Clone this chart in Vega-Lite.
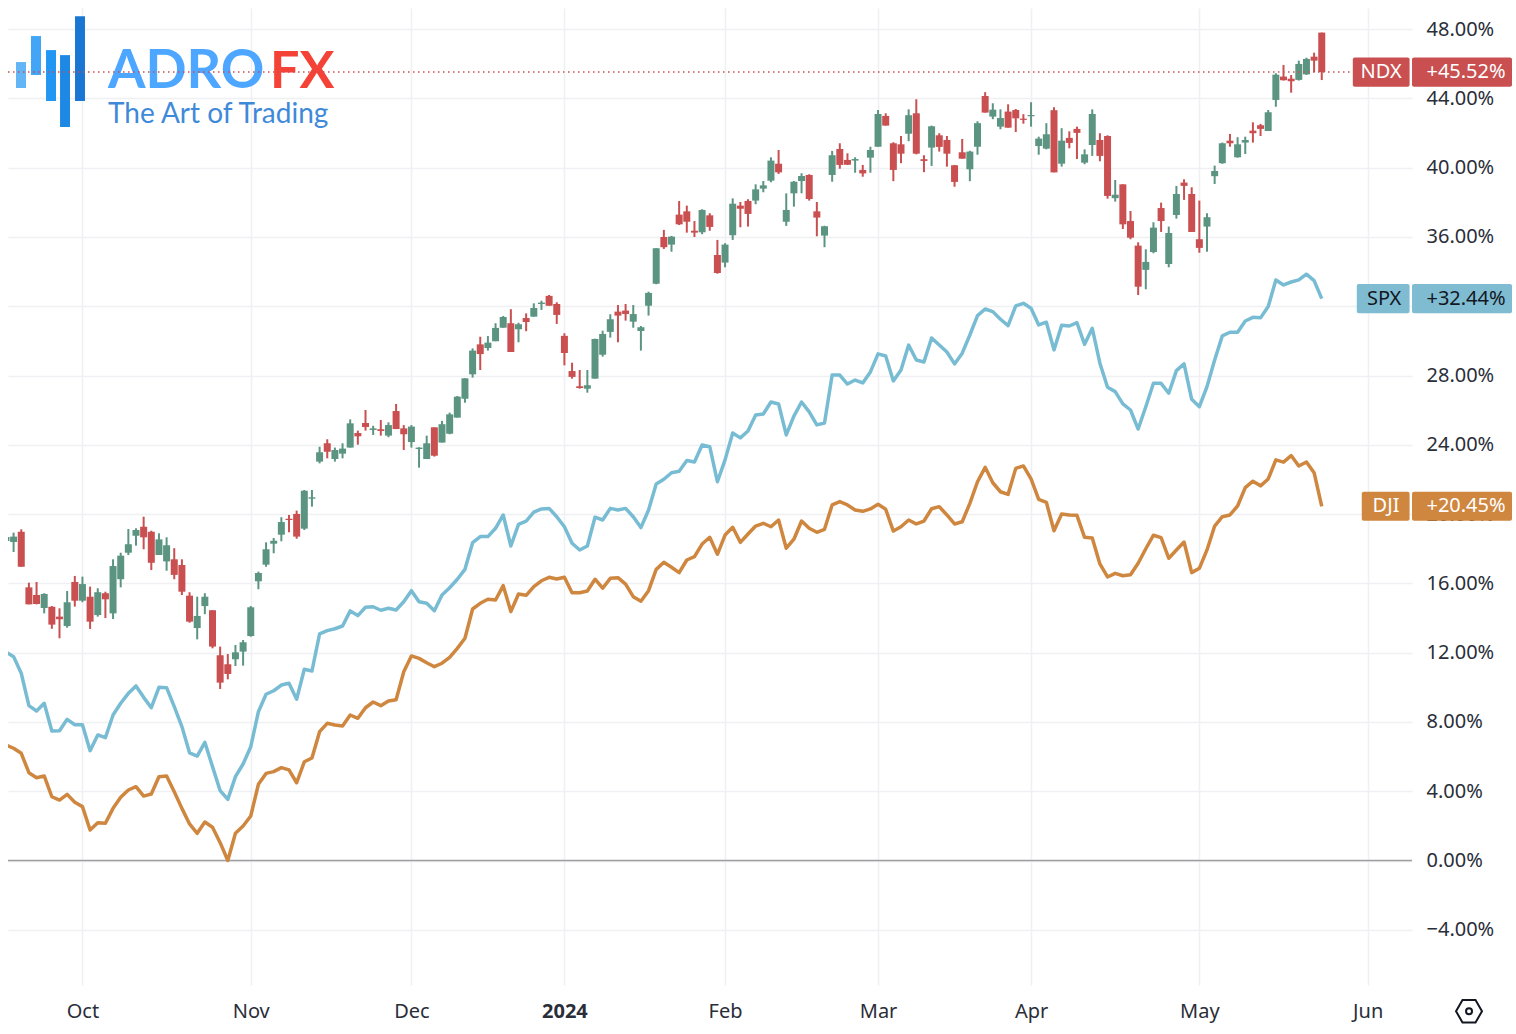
{"$schema":"https://vega.github.io/schema/vega-lite/v6.json","autosize":{"type":"none"},"padding":{"left":8,"top":8,"right":104,"bottom":49},"width":1404,"height":977,"background":"white","config":{"view":{"stroke":null},"font":"Noto Sans","scale":{"continuousPadding":0}},
"datasets":{"days":[
{"i":-1,"o":18.45,"h":18.91,"l":18.10,"c":18.68,"spx":12.04,"dji":6.67},
{"i":0,"o":18.39,"h":18.93,"l":17.81,"c":18.70,"spx":11.77,"dji":6.48},
{"i":1,"o":18.98,"h":19.12,"l":16.96,"c":16.96,"spx":10.81,"dji":6.19},
{"i":2,"o":15.77,"h":16.04,"l":14.79,"c":14.79,"spx":8.94,"dji":5.07},
{"i":3,"o":15.33,"h":16.08,"l":14.79,"c":14.81,"spx":8.63,"dji":4.78},
{"i":4,"o":14.58,"h":15.43,"l":14.27,"c":15.39,"spx":9.08,"dji":4.88},
{"i":5,"o":14.65,"h":14.69,"l":13.38,"c":13.62,"spx":7.48,"dji":3.68},
{"i":6,"o":14.08,"h":14.56,"l":12.83,"c":13.93,"spx":7.49,"dji":3.49},
{"i":7,"o":13.54,"h":15.56,"l":13.44,"c":14.91,"spx":8.15,"dji":3.82},
{"i":8,"o":16.08,"h":16.43,"l":14.66,"c":15.00,"spx":7.84,"dji":3.36},
{"i":9,"o":15.00,"h":16.39,"l":14.91,"c":15.96,"spx":7.84,"dji":3.11},
{"i":10,"o":15.23,"h":15.81,"l":13.37,"c":13.79,"spx":6.34,"dji":1.76},
{"i":11,"o":14.17,"h":15.72,"l":14.08,"c":15.49,"spx":7.25,"dji":2.18},
{"i":12,"o":15.43,"h":15.52,"l":14.00,"c":15.08,"spx":7.09,"dji":2.15},
{"i":13,"o":14.27,"h":17.39,"l":13.94,"c":17.00,"spx":8.40,"dji":3.01},
{"i":14,"o":16.24,"h":17.77,"l":15.77,"c":17.60,"spx":9.08,"dji":3.65},
{"i":15,"o":17.77,"h":19.14,"l":17.64,"c":18.26,"spx":9.65,"dji":4.07},
{"i":16,"o":18.75,"h":19.18,"l":18.18,"c":19.08,"spx":10.08,"dji":4.26},
{"i":17,"o":19.27,"h":19.85,"l":17.97,"c":18.66,"spx":9.42,"dji":3.72},
{"i":18,"o":18.98,"h":19.04,"l":16.77,"c":17.19,"spx":8.82,"dji":3.84},
{"i":19,"o":17.64,"h":18.89,"l":17.64,"c":18.54,"spx":10.00,"dji":4.84},
{"i":20,"o":17.27,"h":18.66,"l":16.73,"c":18.20,"spx":9.98,"dji":4.88},
{"i":21,"o":17.39,"h":18.03,"l":16.24,"c":16.49,"spx":8.88,"dji":3.97},
{"i":22,"o":17.06,"h":17.39,"l":15.33,"c":15.52,"spx":7.73,"dji":3.01},
{"i":23,"o":15.29,"h":15.49,"l":13.73,"c":13.79,"spx":6.22,"dji":2.11},
{"i":24,"o":13.42,"h":15.23,"l":12.77,"c":14.12,"spx":6.03,"dji":1.57},
{"i":25,"o":14.69,"h":15.43,"l":14.22,"c":15.23,"spx":6.82,"dji":2.22},
{"i":26,"o":14.45,"h":14.45,"l":12.25,"c":12.35,"spx":5.42,"dji":1.92},
{"i":27,"o":11.85,"h":12.35,"l":9.90,"c":10.27,"spx":4.03,"dji":1.03},
{"i":28,"o":11.33,"h":11.92,"l":10.46,"c":10.77,"spx":3.53,"dji":0.00},
{"i":29,"o":11.62,"h":12.44,"l":11.23,"c":12.02,"spx":4.84,"dji":1.57},
{"i":30,"o":12.06,"h":12.73,"l":11.25,"c":12.60,"spx":5.57,"dji":1.99},
{"i":31,"o":12.96,"h":14.69,"l":12.92,"c":14.62,"spx":6.57,"dji":2.57},
{"i":32,"o":16.12,"h":16.68,"l":15.66,"c":16.60,"spx":8.59,"dji":4.40},
{"i":33,"o":17.08,"h":18.37,"l":16.96,"c":17.97,"spx":9.60,"dji":5.03},
{"i":34,"o":18.29,"h":18.62,"l":17.74,"c":18.46,"spx":9.80,"dji":5.13},
{"i":35,"o":18.81,"h":19.82,"l":18.43,"c":19.54,"spx":10.13,"dji":5.36},
{"i":36,"o":19.73,"h":19.95,"l":18.95,"c":19.66,"spx":10.23,"dji":5.23},
{"i":37,"o":20.01,"h":20.20,"l":18.58,"c":18.70,"spx":9.31,"dji":4.49},
{"i":38,"o":19.16,"h":21.39,"l":19.08,"c":21.35,"spx":11.04,"dji":5.70},
{"i":39,"o":20.89,"h":21.39,"l":20.43,"c":20.97,"spx":10.94,"dji":5.92},
{"i":40,"o":23.03,"h":23.89,"l":22.93,"c":23.57,"spx":13.08,"dji":7.44},
{"i":41,"o":24.09,"h":24.32,"l":23.22,"c":23.60,"spx":13.27,"dji":7.92},
{"i":42,"o":23.18,"h":23.84,"l":23.03,"c":23.70,"spx":13.38,"dji":7.82},
{"i":43,"o":23.49,"h":24.09,"l":23.22,"c":23.78,"spx":13.54,"dji":7.77},
{"i":44,"o":23.84,"h":25.47,"l":23.84,"c":25.24,"spx":14.41,"dji":8.40},
{"i":45,"o":24.68,"h":24.82,"l":24.01,"c":24.49,"spx":14.14,"dji":8.21},
{"i":46,"o":25.26,"h":26.01,"l":24.82,"c":25.03,"spx":14.62,"dji":8.82},
{"i":47,"o":24.86,"h":25.10,"l":24.57,"c":24.95,"spx":14.65,"dji":9.15},
{"i":48,"o":24.90,"h":25.43,"l":24.53,"c":24.80,"spx":14.45,"dji":8.94},
{"i":49,"o":24.53,"h":25.30,"l":24.44,"c":25.14,"spx":14.56,"dji":9.21},
{"i":50,"o":25.95,"h":26.36,"l":24.91,"c":24.91,"spx":14.46,"dji":9.28},
{"i":51,"o":24.95,"h":25.14,"l":23.70,"c":24.61,"spx":14.94,"dji":10.90},
{"i":52,"o":24.16,"h":25.14,"l":23.84,"c":25.05,"spx":15.58,"dji":11.81},
{"i":53,"o":23.76,"h":23.86,"l":22.68,"c":23.84,"spx":14.94,"dji":11.67},
{"i":54,"o":23.18,"h":24.53,"l":23.18,"c":24.09,"spx":14.85,"dji":11.42},
{"i":55,"o":25.01,"h":25.01,"l":23.32,"c":23.37,"spx":14.42,"dji":11.19},
{"i":56,"o":24.13,"h":25.38,"l":24.13,"c":25.19,"spx":15.33,"dji":11.39},
{"i":57,"o":24.64,"h":25.86,"l":24.61,"c":25.76,"spx":15.75,"dji":11.73},
{"i":58,"o":25.57,"h":26.82,"l":25.57,"c":26.78,"spx":16.24,"dji":12.25},
{"i":59,"o":26.66,"h":27.84,"l":26.43,"c":27.84,"spx":16.81,"dji":12.83},
{"i":60,"o":28.07,"h":29.57,"l":27.88,"c":29.44,"spx":18.35,"dji":14.52},
{"i":61,"o":29.80,"h":30.24,"l":28.32,"c":29.24,"spx":18.70,"dji":14.85},
{"i":62,"o":29.59,"h":30.28,"l":29.44,"c":29.90,"spx":18.70,"dji":15.08},
{"i":63,"o":29.98,"h":31.02,"l":29.98,"c":30.75,"spx":19.18,"dji":15.04},
{"i":64,"o":30.76,"h":31.44,"l":30.76,"c":31.38,"spx":19.95,"dji":15.87},
{"i":65,"o":31.02,"h":31.83,"l":29.36,"c":29.36,"spx":18.16,"dji":14.37},
{"i":66,"o":30.67,"h":31.05,"l":29.92,"c":30.96,"spx":19.41,"dji":15.39},
{"i":67,"o":31.32,"h":31.59,"l":30.56,"c":31.09,"spx":19.60,"dji":15.31},
{"i":68,"o":31.40,"h":32.17,"l":31.40,"c":31.90,"spx":20.11,"dji":15.81},
{"i":69,"o":32.13,"h":32.32,"l":31.79,"c":32.21,"spx":20.30,"dji":16.15},
{"i":70,"o":32.60,"h":32.65,"l":32.03,"c":32.03,"spx":20.33,"dji":16.35},
{"i":71,"o":32.13,"h":32.23,"l":30.98,"c":31.50,"spx":19.85,"dji":16.25},
{"i":72,"o":30.29,"h":30.44,"l":28.59,"c":29.30,"spx":19.27,"dji":16.35},
{"i":73,"o":28.26,"h":28.74,"l":27.82,"c":27.92,"spx":18.32,"dji":15.46},
{"i":74,"o":27.38,"h":28.32,"l":27.24,"c":27.28,"spx":17.93,"dji":15.46},
{"i":75,"o":27.24,"h":28.32,"l":27.01,"c":27.44,"spx":18.16,"dji":15.56},
{"i":76,"o":27.82,"h":30.13,"l":27.82,"c":30.11,"spx":19.82,"dji":16.24},
{"i":77,"o":29.20,"h":30.59,"l":29.09,"c":30.40,"spx":19.66,"dji":15.72},
{"i":78,"o":30.52,"h":31.54,"l":30.19,"c":31.25,"spx":20.33,"dji":16.29},
{"i":79,"o":31.69,"h":32.07,"l":29.92,"c":31.46,"spx":20.24,"dji":16.33},
{"i":80,"o":31.75,"h":32.13,"l":31.17,"c":31.55,"spx":20.33,"dji":15.96},
{"i":81,"o":31.11,"h":32.07,"l":30.76,"c":31.55,"spx":19.85,"dji":15.23},
{"i":82,"o":30.57,"h":30.86,"l":29.44,"c":30.79,"spx":19.22,"dji":14.97},
{"i":83,"o":32.03,"h":32.84,"l":31.46,"c":32.77,"spx":20.24,"dji":15.58},
{"i":84,"o":33.30,"h":35.35,"l":33.27,"c":35.35,"spx":21.74,"dji":16.81},
{"i":85,"o":36.00,"h":36.41,"l":35.31,"c":35.41,"spx":22.01,"dji":17.22},
{"i":86,"o":35.56,"h":36.06,"l":35.15,"c":36.02,"spx":22.39,"dji":16.93},
{"i":87,"o":37.29,"h":38.08,"l":36.69,"c":36.73,"spx":22.47,"dji":16.62},
{"i":88,"o":37.48,"h":37.81,"l":36.25,"c":36.88,"spx":23.09,"dji":17.35},
{"i":89,"o":36.36,"h":36.92,"l":36.00,"c":36.25,"spx":23.01,"dji":17.54},
{"i":90,"o":36.27,"h":37.60,"l":36.16,"c":37.56,"spx":23.99,"dji":18.27},
{"i":91,"o":37.25,"h":37.37,"l":36.36,"c":36.58,"spx":23.89,"dji":18.66},
{"i":92,"o":34.96,"h":35.83,"l":33.88,"c":33.92,"spx":21.87,"dji":17.68},
{"i":93,"o":34.52,"h":35.64,"l":34.25,"c":35.56,"spx":23.13,"dji":18.79},
{"i":94,"o":36.10,"h":38.23,"l":35.83,"c":37.92,"spx":24.68,"dji":19.24},
{"i":95,"o":37.81,"h":38.02,"l":36.56,"c":37.63,"spx":24.40,"dji":18.37},
{"i":96,"o":38.08,"h":38.18,"l":36.60,"c":37.33,"spx":24.80,"dji":18.85},
{"i":97,"o":38.10,"h":39.04,"l":37.89,"c":38.75,"spx":25.72,"dji":19.31},
{"i":98,"o":38.79,"h":39.23,"l":38.58,"c":38.98,"spx":25.78,"dji":19.47},
{"i":99,"o":39.25,"h":40.60,"l":39.16,"c":40.41,"spx":26.47,"dji":19.27},
{"i":100,"o":40.23,"h":41.02,"l":39.64,"c":39.73,"spx":26.36,"dji":19.66},
{"i":101,"o":36.88,"h":38.52,"l":36.64,"c":37.56,"spx":24.57,"dji":18.03},
{"i":102,"o":38.52,"h":39.23,"l":37.75,"c":39.19,"spx":25.66,"dji":18.55},
{"i":103,"o":39.23,"h":39.68,"l":38.52,"c":39.52,"spx":26.47,"dji":19.60},
{"i":104,"o":39.58,"h":39.62,"l":38.10,"c":38.19,"spx":25.90,"dji":19.18},
{"i":105,"o":37.48,"h":38.02,"l":36.04,"c":37.12,"spx":25.15,"dji":18.95},
{"i":106,"o":36.08,"h":36.65,"l":35.41,"c":36.62,"spx":25.26,"dji":19.12},
{"i":107,"o":39.58,"h":40.97,"l":39.19,"c":40.72,"spx":28.03,"dji":20.53},
{"i":108,"o":41.08,"h":41.41,"l":39.94,"c":40.16,"spx":28.03,"dji":20.72},
{"i":109,"o":40.45,"h":40.83,"l":40.16,"c":40.17,"spx":27.51,"dji":20.53},
{"i":110,"o":40.41,"h":40.60,"l":39.71,"c":40.50,"spx":27.74,"dji":20.24},
{"i":111,"o":39.87,"h":40.16,"l":39.48,"c":39.67,"spx":27.57,"dji":20.16},
{"i":112,"o":40.58,"h":41.21,"l":39.71,"c":41.02,"spx":28.21,"dji":20.30},
{"i":113,"o":41.21,"h":43.33,"l":41.21,"c":43.10,"spx":29.25,"dji":20.57},
{"i":114,"o":42.99,"h":43.14,"l":42.43,"c":42.43,"spx":29.13,"dji":20.28},
{"i":115,"o":41.41,"h":41.47,"l":39.22,"c":39.87,"spx":27.69,"dji":19.02},
{"i":116,"o":41.35,"h":41.83,"l":40.26,"c":40.81,"spx":28.32,"dji":19.27},
{"i":117,"o":41.96,"h":43.37,"l":41.53,"c":43.03,"spx":29.76,"dji":19.66},
{"i":118,"o":43.14,"h":43.95,"l":40.77,"c":40.81,"spx":28.90,"dji":19.43},
{"i":119,"o":40.49,"h":40.72,"l":39.74,"c":40.39,"spx":28.78,"dji":19.60},
{"i":120,"o":41.16,"h":42.43,"l":40.10,"c":42.39,"spx":30.17,"dji":20.31},
{"i":121,"o":41.87,"h":41.99,"l":40.93,"c":41.20,"spx":29.76,"dji":20.43},
{"i":122,"o":41.60,"h":41.83,"l":40.06,"c":40.81,"spx":29.36,"dji":19.95},
{"i":123,"o":40.14,"h":40.16,"l":38.90,"c":39.18,"spx":28.67,"dji":19.43},
{"i":124,"o":40.89,"h":41.66,"l":40.52,"c":40.52,"spx":29.29,"dji":19.56},
{"i":125,"o":39.91,"h":40.98,"l":39.22,"c":40.93,"spx":30.34,"dji":20.62},
{"i":126,"o":41.21,"h":42.68,"l":40.75,"c":42.57,"spx":31.46,"dji":21.87},
{"i":127,"o":44.14,"h":44.36,"l":43.18,"c":43.18,"spx":31.84,"dji":22.70},
{"i":128,"o":42.95,"h":43.72,"l":42.80,"c":43.35,"spx":31.69,"dji":21.81},
{"i":129,"o":42.37,"h":43.37,"l":42.22,"c":42.87,"spx":31.25,"dji":21.29},
{"i":130,"o":43.24,"h":43.66,"l":42.31,"c":42.31,"spx":30.88,"dji":21.14},
{"i":131,"o":43.33,"h":43.39,"l":42.06,"c":42.85,"spx":32.02,"dji":22.64},
{"i":132,"o":42.83,"h":43.09,"l":42.54,"c":42.76,"spx":32.17,"dji":22.78},
{"i":133,"o":42.97,"h":43.78,"l":42.37,"c":43.04,"spx":31.88,"dji":22.03},
{"i":134,"o":41.25,"h":41.79,"l":40.75,"c":41.68,"spx":30.92,"dji":20.85},
{"i":135,"o":41.10,"h":42.57,"l":41.06,"c":41.93,"spx":31.08,"dji":20.68},
{"i":136,"o":43.32,"h":43.49,"l":39.73,"c":39.73,"spx":29.48,"dji":19.04},
{"i":137,"o":40.23,"h":42.28,"l":40.06,"c":41.56,"spx":30.90,"dji":20.01},
{"i":138,"o":41.72,"h":42.10,"l":41.12,"c":41.43,"spx":30.86,"dji":19.95},
{"i":139,"o":42.24,"h":42.37,"l":40.50,"c":42.01,"spx":31.05,"dji":19.93},
{"i":140,"o":40.29,"h":41.06,"l":40.20,"c":40.77,"spx":29.80,"dji":18.66},
{"i":141,"o":41.31,"h":43.37,"l":40.68,"c":43.10,"spx":30.73,"dji":18.62},
{"i":142,"o":41.60,"h":41.99,"l":40.37,"c":40.68,"spx":28.71,"dji":17.12},
{"i":143,"o":41.83,"h":41.87,"l":38.21,"c":38.37,"spx":27.32,"dji":16.37},
{"i":144,"o":38.24,"h":39.29,"l":38.04,"c":38.44,"spx":27.07,"dji":16.58},
{"i":145,"o":39.04,"h":39.04,"l":36.46,"c":36.73,"spx":26.36,"dji":16.44},
{"i":146,"o":36.92,"h":37.50,"l":35.87,"c":35.96,"spx":26.01,"dji":16.50},
{"i":147,"o":35.50,"h":35.69,"l":32.65,"c":33.13,"spx":24.91,"dji":17.16},
{"i":148,"o":34.10,"h":35.29,"l":32.98,"c":34.56,"spx":26.20,"dji":18.00},
{"i":149,"o":35.13,"h":36.85,"l":35.06,"c":36.54,"spx":27.55,"dji":18.78},
{"i":150,"o":37.67,"h":37.98,"l":36.29,"c":36.92,"spx":27.55,"dji":18.64},
{"i":151,"o":34.44,"h":36.60,"l":34.25,"c":36.23,"spx":26.98,"dji":17.45},
{"i":152,"o":37.27,"h":38.95,"l":37.06,"c":38.48,"spx":28.28,"dji":17.93},
{"i":153,"o":39.14,"h":39.33,"l":38.14,"c":38.95,"spx":28.67,"dji":18.39},
{"i":154,"o":38.48,"h":38.87,"l":36.29,"c":36.29,"spx":26.63,"dji":16.62},
{"i":155,"o":35.87,"h":38.10,"l":35.09,"c":35.37,"spx":26.20,"dji":16.87},
{"i":156,"o":36.60,"h":37.37,"l":35.15,"c":37.14,"spx":27.36,"dji":17.93},
{"i":157,"o":39.51,"h":40.12,"l":39.06,"c":39.81,"spx":28.90,"dji":19.31},
{"i":158,"o":40.26,"h":41.45,"l":40.22,"c":41.41,"spx":30.29,"dji":19.85},
{"i":159,"o":41.56,"h":41.95,"l":41.21,"c":41.41,"spx":30.50,"dji":19.95},
{"i":160,"o":40.60,"h":41.76,"l":40.58,"c":41.35,"spx":30.50,"dji":20.47},
{"i":161,"o":41.45,"h":41.79,"l":40.79,"c":41.60,"spx":31.15,"dji":21.53},
{"i":162,"o":42.14,"h":42.62,"l":41.45,"c":41.99,"spx":31.36,"dji":21.90},
{"i":163,"o":42.45,"h":42.53,"l":41.83,"c":42.24,"spx":31.33,"dji":21.63},
{"i":164,"o":42.12,"h":43.33,"l":42.12,"c":43.20,"spx":31.98,"dji":22.03},
{"i":165,"o":43.91,"h":45.45,"l":43.52,"c":45.37,"spx":33.52,"dji":23.13},
{"i":166,"o":45.26,"h":45.93,"l":45.03,"c":45.05,"spx":33.23,"dji":23.00},
{"i":167,"o":45.14,"h":45.35,"l":44.33,"c":44.99,"spx":33.40,"dji":23.38},
{"i":168,"o":45.07,"h":46.18,"l":45.03,"c":45.99,"spx":33.52,"dji":22.78},
{"i":169,"o":45.39,"h":46.35,"l":45.35,"c":46.28,"spx":33.85,"dji":23.01},
{"i":170,"o":46.41,"h":46.64,"l":45.51,"c":46.18,"spx":33.48,"dji":22.39},
{"i":171,"o":47.80,"h":47.80,"l":45.06,"c":45.52,"spx":32.44,"dji":20.45}
],
"tags":[
{"series":"NDX","text":"NDX","xa":175.06,"xb":182.48,"xc":178.75,"lo":44.68,"hi":46.36,"mid":45.52},
{"series":"NDX","text":"+45.52%","xa":182.8,"xb":195.87,"xc":189.86,"lo":44.68,"hi":46.36,"mid":45.52},
{"series":"SPX","text":"SPX","xa":175.58,"xb":182.48,"xc":179.15,"lo":31.6,"hi":33.28,"mid":32.44},
{"series":"SPX","text":"+32.44%","xa":182.8,"xb":195.87,"xc":189.86,"lo":31.6,"hi":33.28,"mid":32.44},
{"series":"DJI","text":"DJI","xa":176.23,"xb":182.48,"xc":179.4,"lo":19.61,"hi":21.29,"mid":20.45},
{"series":"DJI","text":"+20.45%","xa":182.8,"xb":195.87,"xc":189.86,"lo":19.61,"hi":21.29,"mid":20.45}
]},
"layer":[
{"data":{"values":[{"base":0}]},"mark":{"type":"rule","color":"#9e9e9e","strokeWidth":1.5},"encoding":{
"x":{"datum":-0.732,"type":"quantitative","title":null,"scale":{"domain":[-0.732,182.797],"nice":false,"zero":false},"axis":{"title":null,"orient":"bottom","values":[9,31,52,72,93,113,133,155,177],"labelExpr":"{9:'Oct',31:'Nov',52:'Dec',72:'2024',93:'Feb',113:'Mar',133:'Apr',155:'May',177:'Jun'}[datum.value]","domain":false,"ticks":false,"grid":true,"gridColor":"#eef0f4","gridWidth":1.5,"labelFont":"Noto Sans","labelFontSize":20,"labelColor":"#2a2e39","labelPadding":26,"labelBaseline":"middle","labelFontWeight":{"condition":{"test":"datum.value==72","value":"bold"},"value":"normal"},"labelOverlap":false}},
"x2":{"datum":182.797},
"y":{"field":"base","type":"quantitative","title":null,"scale":{"domain":[-7.188,49.22],"nice":false,"zero":false},"axis":{"title":null,"orient":"right","values":[-4,0,4,8,12,16,20,24,28,32,36,40,44,48],"labelExpr":"(datum.value<0?'\u2212':'')+format(abs(datum.value),'.2f')+'%'","domain":false,"ticks":false,"grid":true,"gridColor":"#eef0f4","gridWidth":1.5,"labelFont":"Noto Sans","labelFontSize":20,"labelColor":"#2a2e39","labelPadding":14,"labelOverlap":false}}}},
{"data":{"name":"days"},"mark":{"type":"rule","strokeWidth":2,"clip":true},"encoding":{"x":{"field":"i","type":"quantitative","title":null,"scale":{"domain":[-0.732,182.797],"nice":false,"zero":false}},"y":{"field":"l","type":"quantitative","title":null,"scale":{"domain":[-7.188,49.22],"nice":false,"zero":false}},"y2":{"field":"h"},"color":{"condition":{"test":"datum.c>=datum.o","value":"#5b9582"},"value":"#c94f50"}}},
{"data":{"name":"days"},"mark":{"type":"bar","size":7,"orient":"vertical","clip":true},"encoding":{"x":{"field":"i","type":"quantitative","title":null,"scale":{"domain":[-0.732,182.797],"nice":false,"zero":false}},"y":{"field":"o","type":"quantitative","title":null,"scale":{"domain":[-7.188,49.22],"nice":false,"zero":false}},"y2":{"field":"c"},"color":{"condition":{"test":"datum.c>=datum.o","value":"#5b9582"},"value":"#c94f50"}}},
{"data":{"name":"days"},"mark":{"type":"line","color":"#78bcd4","strokeWidth":3.5,"clip":true,"strokeJoin":"round"},"encoding":{"x":{"field":"i","type":"quantitative","title":null,"scale":{"domain":[-0.732,182.797],"nice":false,"zero":false}},"y":{"field":"spx","type":"quantitative","title":null,"scale":{"domain":[-7.188,49.22],"nice":false,"zero":false}}}},
{"data":{"name":"days"},"mark":{"type":"line","color":"#cf863f","strokeWidth":3.5,"clip":true,"strokeJoin":"round"},"encoding":{"x":{"field":"i","type":"quantitative","title":null,"scale":{"domain":[-0.732,182.797],"nice":false,"zero":false}},"y":{"field":"dji","type":"quantitative","title":null,"scale":{"domain":[-7.188,49.22],"nice":false,"zero":false}}}},
{"data":{"values":[
{"xa":0.31,"xb":1.62,"lo":44.60,"hi":46.10,"color":"#64b5f6"},
{"xa":2.27,"xb":3.58,"lo":45.35,"hi":47.60,"color":"#42a5f5"},
{"xa":4.24,"xb":5.54,"lo":43.85,"hi":46.79,"color":"#2196f3"},
{"xa":6.07,"xb":7.37,"lo":42.35,"hi":46.50,"color":"#1e88e5"},
{"xa":8.03,"xb":9.33,"lo":43.85,"hi":48.75,"color":"#1976d2"}]},
"mark":{"type":"rect"},"encoding":{"x":{"field":"xa","type":"quantitative","title":null,"scale":{"domain":[-0.732,182.797],"nice":false,"zero":false}},"x2":{"field":"xb"},"y":{"field":"lo","type":"quantitative","title":null,"scale":{"domain":[-7.188,49.22],"nice":false,"zero":false}},"y2":{"field":"hi"},"color":{"field":"color","type":"nominal","scale":null}}},
{"data":{"values":[{"x":12.34,"y":44.60,"t":"ADRO"}]},"mark":{"type":"text","align":"left","baseline":"alphabetic","font":"Lato","fontWeight":"bold","fontSize":54,"color":"#4da6ff"},"encoding":{"x":{"field":"x","type":"quantitative","title":null,"scale":{"domain":[-0.732,182.797],"nice":false,"zero":false}},"y":{"field":"y","type":"quantitative","title":null,"scale":{"domain":[-7.188,49.22],"nice":false,"zero":false}},"text":{"field":"t"}}},
{"data":{"values":[{"x":33.52,"y":44.60,"t":"FX"}]},"mark":{"type":"text","align":"left","baseline":"alphabetic","font":"Lato","fontWeight":"bold","fontSize":52,"color":"#f44336"},"encoding":{"x":{"field":"x","type":"quantitative","title":null,"scale":{"domain":[-0.732,182.797],"nice":false,"zero":false}},"y":{"field":"y","type":"quantitative","title":null,"scale":{"domain":[-7.188,49.22],"nice":false,"zero":false}},"text":{"field":"t"}}},
{"data":{"values":[{"x":12.34,"y":42.58,"t":"The Art of Trading"}]},"mark":{"type":"text","align":"left","baseline":"alphabetic","font":"Lato","fontWeight":400,"fontSize":28,"color":"#3f8ad8"},"encoding":{"x":{"field":"x","type":"quantitative","title":null,"scale":{"domain":[-0.732,182.797],"nice":false,"zero":false}},"y":{"field":"y","type":"quantitative","title":null,"scale":{"domain":[-7.188,49.22],"nice":false,"zero":false}},"text":{"field":"t"}}},
{"data":{"values":[{"y":45.52,"from":-0.732,"to":175.06}]},"mark":{"type":"rule","color":"#c94f50","strokeWidth":1.5,"strokeDash":[1.5,3.5]},"encoding":{"x":{"field":"from","type":"quantitative","title":null,"scale":{"domain":[-0.732,182.797],"nice":false,"zero":false}},"x2":{"field":"to"},"y":{"field":"y","type":"quantitative","title":null,"scale":{"domain":[-7.188,49.22],"nice":false,"zero":false}}}},
{"data":{"name":"tags"},"mark":{"type":"rect","cornerRadius":2},"encoding":{"x":{"field":"xa","type":"quantitative","title":null,"scale":{"domain":[-0.732,182.797],"nice":false,"zero":false}},"x2":{"field":"xb"},"y":{"field":"lo","type":"quantitative","title":null,"scale":{"domain":[-7.188,49.22],"nice":false,"zero":false}},"y2":{"field":"hi"},"color":{"field":"series","type":"nominal","legend":null,"scale":{"domain":["NDX","SPX","DJI"],"range":["#c94f50","#7fbcd2","#cf863f"]}}}},
{"data":{"name":"tags"},"mark":{"type":"text","font":"Noto Sans","fontSize":20,"align":"center","baseline":"middle"},"encoding":{"x":{"field":"xc","type":"quantitative","title":null,"scale":{"domain":[-0.732,182.797],"nice":false,"zero":false}},"y":{"field":"mid","type":"quantitative","title":null,"scale":{"domain":[-7.188,49.22],"nice":false,"zero":false}},"text":{"field":"text"},"color":{"condition":{"test":"datum.series=='SPX'","value":"#131722"},"value":"#ffffff"}}},
{"data":{"values":[{"x":190.25,"y":-8.7}]},"mark":{"type":"point","filled":false,"shape":"M-1,0 L-0.5,-0.87 L0.5,-0.87 L1,0 L0.5,0.87 L-0.5,0.87 Z","size":676,"stroke":"#131722","strokeWidth":2,"opacity":1},"encoding":{"x":{"field":"x","type":"quantitative","title":null,"scale":{"domain":[-0.732,182.797],"nice":false,"zero":false}},"y":{"field":"y","type":"quantitative","title":null,"scale":{"domain":[-7.188,49.22],"nice":false,"zero":false}}}},
{"data":{"values":[{"x":190.25,"y":-8.7}]},"mark":{"type":"point","filled":false,"shape":"circle","size":36,"stroke":"#131722","strokeWidth":2,"opacity":1},"encoding":{"x":{"field":"x","type":"quantitative","title":null,"scale":{"domain":[-0.732,182.797],"nice":false,"zero":false}},"y":{"field":"y","type":"quantitative","title":null,"scale":{"domain":[-7.188,49.22],"nice":false,"zero":false}}}}
]}
